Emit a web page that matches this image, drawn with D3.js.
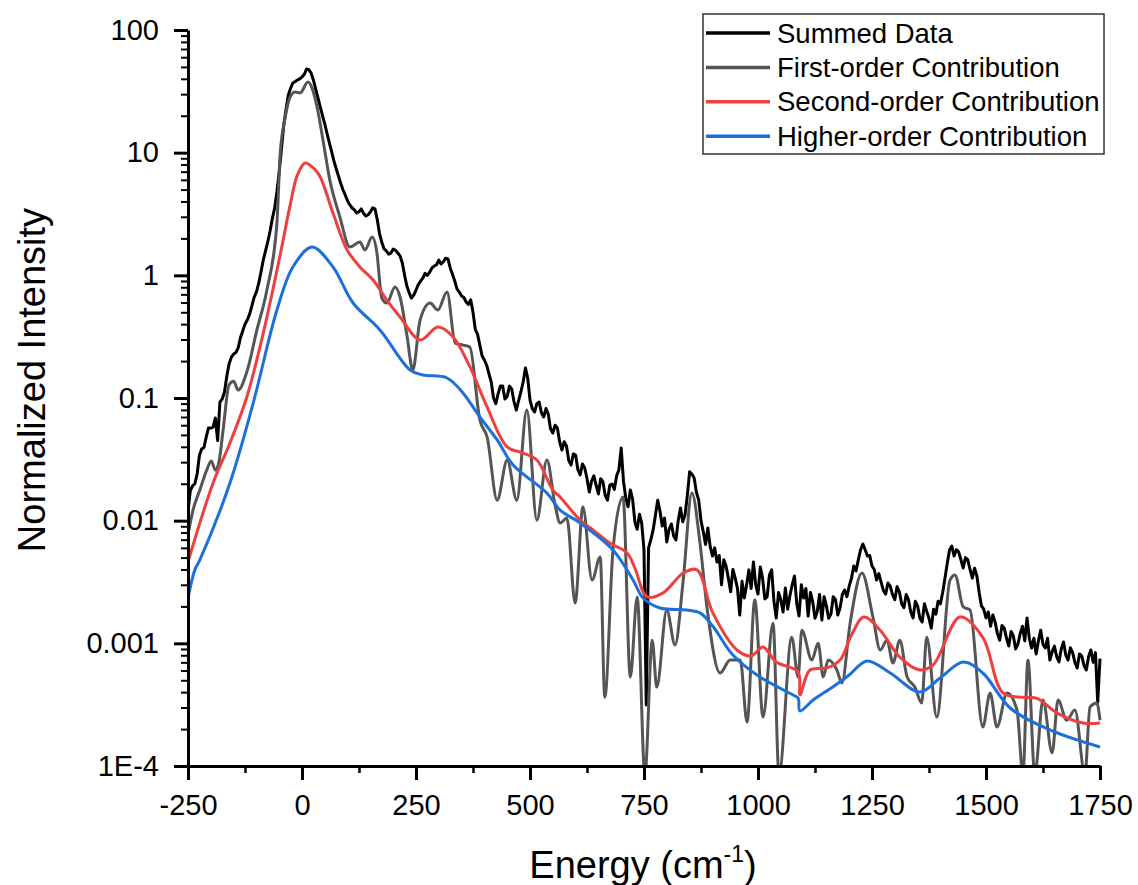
<!DOCTYPE html>
<html>
<head>
<meta charset="utf-8">
<script src="https://cdn.jsdelivr.net/npm/d3@7"></script>
<style>
    body { margin: 0; background: #fff; }
    text { font-family: "Liberation Sans", Arial, sans-serif; fill: #000; }
</style>
</head>
<body>
<div class="canvas"></div>

<script>
    // ---- data ----
    const seriesNames = ["Summed Data", "First-order Contribution", "Second-order Contribution", "Higher-order Contribution"];

    // summed data sampled every 5 cm-1 from -250 to 1750
    const summedEnergy = d3.range(-250, 1751, 5);
    const summedIntensity = [
        0.0118, 0.0175, 0.0192, 0.0200, 0.0240, 0.0340, 0.0384, 0.0395, 0.0481, 0.0570,
        0.0569, 0.0580, 0.0687, 0.045, 0.0928, 0.098, 0.112, 0.150, 0.189, 0.215,
        0.228, 0.235, 0.256, 0.31, 0.351, 0.40, 0.432, 0.48, 0.561, 0.66,
        0.731, 0.86, 1.06, 1.33, 1.58, 1.88, 2.30, 2.9, 3.54, 4.8,
        6.96, 10.8, 16.8, 22.5, 29.5, 33.5, 37.0, 38.0, 39.1, 40.0,
        41.4, 43.5, 48.1, 47.5, 44.6, 39.0, 33.0, 28.0, 23.6, 20.0,
        17.1, 14.3, 12.0, 10.2, 8.55, 7.4, 6.46, 5.6, 4.96, 4.5,
        4.04, 3.75, 3.54, 3.42, 3.22, 3.30, 3.48, 3.20, 3.05, 3.12,
        3.28, 3.55, 3.48, 2.85, 2.19, 1.86, 1.64, 1.58, 1.49, 1.52,
        1.64, 1.60, 1.52, 1.44, 1.26, 1.00, 0.818, 0.72, 0.653, 0.69,
        0.759, 0.84, 0.897, 0.95, 1.04, 1.00, 1.06, 1.15, 1.19, 1.22,
        1.33, 1.24, 1.29, 1.38, 1.36, 1.15, 1.02, 0.90, 0.772, 0.73,
        0.678, 0.66, 0.606, 0.58, 0.632, 0.50, 0.363, 0.33, 0.270, 0.22,
        0.204, 0.185, 0.157, 0.135, 0.100, 0.090, 0.108, 0.125, 0.125, 0.098,
        0.103, 0.125, 0.118, 0.093, 0.0798, 0.0950, 0.112, 0.135, 0.176, 0.145,
        0.0963, 0.0820, 0.0769, 0.0900, 0.0928, 0.0760, 0.0700, 0.0820, 0.0741, 0.0560,
        0.0518, 0.0600, 0.0569, 0.0440, 0.0376, 0.0440, 0.0406, 0.0310, 0.0284, 0.0350,
        0.0343, 0.0260, 0.0236, 0.0290, 0.0269, 0.0220, 0.0171, 0.0210, 0.0232, 0.0195,
        0.0165, 0.0220, 0.0207, 0.0160, 0.0147, 0.0195, 0.0199, 0.0180, 0.0232, 0.0260,
        0.0391, 0.0210, 0.0153, 0.0130, 0.0178, 0.0150, 0.00976, 0.0085, 0.0113, 0.0095,
        0.00577, 0.000314, 0.0060, 0.0070, 0.0084, 0.0110, 0.0147, 0.0120, 0.00905, 0.0105,
        0.0067, 0.0085, 0.0094, 0.0075, 0.00696, 0.0100, 0.0127, 0.0098, 0.0111, 0.0160,
        0.0250, 0.0240, 0.0223, 0.0170, 0.0147, 0.0100, 0.00811, 0.0064, 0.00872, 0.0062,
        0.00515, 0.0060, 0.00461, 0.0052, 0.0030, 0.0048, 0.00427, 0.0034, 0.00263, 0.0040,
        0.0034, 0.0028, 0.0017, 0.0032, 0.00234, 0.0030, 0.00397, 0.0028, 0.00461, 0.0030,
        0.00252, 0.0042, 0.0034, 0.0023, 0.00239, 0.0036, 0.00397, 0.0022, 0.00161, 0.0026,
        0.00227, 0.0018, 0.00283, 0.0019, 0.00244, 0.0030, 0.00354, 0.0021, 0.00167, 0.0030,
        0.00234, 0.0028, 0.00167, 0.0026, 0.00219, 0.0016, 0.00182, 0.0025, 0.00155, 0.0024,
        0.00202, 0.0016, 0.00173, 0.0024, 0.00227, 0.0017, 0.00195, 0.0025, 0.00272, 0.0024,
        0.00293, 0.0034, 0.00427, 0.0039, 0.00479, 0.0058, 0.00646, 0.0058, 0.00515, 0.0052,
        0.00427, 0.0040, 0.00328, 0.0037, 0.00316, 0.0027, 0.00252, 0.0031, 0.00293, 0.0025,
        0.00227, 0.0029, 0.00263, 0.0021, 0.00195, 0.0025, 0.00227, 0.0018, 0.00161, 0.0022,
        0.00202, 0.0016, 0.00149, 0.0021, 0.00182, 0.0016, 0.00133, 0.0019, 0.00173, 0.0022,
        0.0021, 0.0026, 0.0034, 0.0045, 0.00577, 0.0062, 0.00515, 0.0058, 0.00556, 0.0048,
        0.00411, 0.0050, 0.00479, 0.0040, 0.0034, 0.0041, 0.00354, 0.0026, 0.00202, 0.0019,
        0.00161, 0.0018, 0.00138, 0.0017, 0.00149, 0.0012, 0.00106, 0.0014, 0.00133, 0.0011,
        0.00095, 0.00125, 0.00115, 0.00090, 0.000987, 0.00120, 0.00138, 0.00105, 0.00161, 0.00110,
        0.000915, 0.00110, 0.000818, 0.00105, 0.00128, 0.00098, 0.000915, 0.00110, 0.000731, 0.00085,
        0.00095, 0.00078, 0.000704, 0.00090, 0.001025, 0.00080, 0.000731, 0.00092, 0.00084, 0.00070,
        0.000629, 0.00082, 0.000788, 0.00066, 0.000606, 0.00078, 0.000882, 0.00070, 0.00084, 0.00033,
        0.00075
    ];

    const firstEnergy = [
        -250, -239, -224, -209, -199, -190, -182, -173, -160, -150, -140, -121, -99, -77, -55, -48, -37, -26, -15, -4,
        13, 22, 33, 46, 61, 83, 105, 127, 138, 154, 164, 175, 186, 204, 215, 230, 243, 259, 281, 298,
        318, 336, 353, 368, 390, 406, 428, 450, 471, 493, 515, 537, 555, 566, 581, 599, 616, 636, 654, 664,
        682, 704, 720, 735, 752, 768, 778, 800, 818, 836, 855, 872, 888, 917, 939, 961, 976, 993, 1011, 1033,
        1046, 1074, 1088, 1096, 1118, 1132, 1143, 1154, 1173, 1184, 1202, 1228, 1252, 1268, 1283, 1296, 1311, 1327, 1344, 1359,
        1370, 1392, 1421, 1432, 1450, 1465, 1493, 1509, 1524, 1546, 1568, 1581, 1592, 1607, 1625, 1645, 1658, 1677, 1695, 1717,
        1728, 1743, 1750
    ];
    const firstIntensity = [
        0.00765, 0.0122, 0.0178, 0.0258, 0.0307, 0.0258, 0.0302, 0.0548, 0.128, 0.137, 0.116, 0.163, 0.357, 0.759, 2.67, 9.58, 19.2, 28.4, 31.2, 30.7,
        37.6, 33.6, 23.6, 12.7, 5.98, 3.00, 1.70, 1.87, 1.61, 2.05, 1.55, 0.653, 0.594, 0.803, 0.666, 0.326, 0.169, 0.432, 0.594, 0.521,
        0.731, 0.280, 0.270, 0.260, 0.0662, 0.0481, 0.0147, 0.0312, 0.0147, 0.0798, 0.0101, 0.0312, 0.0134, 0.00958, 0.0105, 0.00213, 0.0129, 0.00328, 0.00506, 0.000363,
        0.00577, 0.0156, 0.000531, 0.00239, 0.000085, 0.00106, 0.000440, 0.00187, 0.000969, 0.00328, 0.0168, 0.00696, 0.00198, 0.000573, 0.000731, 0.000731, 0.000228, 0.00227, 0.000251, 0.00146,
        0.000085, 0.00112, 0.000531, 0.00128, 0.000731, 0.00100, 0.000531, 0.000731, 0.000606, 0.000475, 0.00146, 0.00374, 0.00164, 0.000882, 0.00106, 0.000691, 0.00106, 0.000531, 0.000440, 0.000326,
        0.00112, 0.000251, 0.00328, 0.00361, 0.00198, 0.00187, 0.000208, 0.000394, 0.000208, 0.000394, 0.000286, 0.000085, 0.000731, 0.000085, 0.000345, 0.000128, 0.000345, 0.000236, 0.000286, 0.000085,
        0.000302, 0.000326, 0.000236
    ];

    const secondEnergy = [
        -250, -195, -158, -121, -85, -48, -26, -10, 7, 25, 40, 68, 99, 127, 156, 186, 215, 259, 298, 331,
        368, 406, 450, 485, 515, 550, 566, 610, 638, 675, 713, 730, 757, 792, 836, 866, 901, 954, 985, 1011,
        1040, 1088, 1092, 1114, 1151, 1180, 1205, 1232, 1268, 1311, 1355, 1384, 1443, 1493, 1537, 1581, 1612, 1656, 1713, 1750
    ];
    const secondIntensity = [
        0.00461, 0.0203, 0.0430, 0.102, 0.338, 1.46, 3.74, 6.58, 8.23, 7.50, 6.34, 3.22, 1.61, 1.17, 0.915, 0.629, 0.458, 0.297, 0.379, 0.316,
        0.180, 0.0844, 0.0399, 0.0356, 0.0312, 0.0178, 0.0156, 0.0101, 0.00840, 0.00658, 0.00545, 0.00411, 0.00239, 0.00258, 0.00374, 0.00397, 0.00177, 0.000882, 0.000788, 0.000933,
        0.000704, 0.000583, 0.000379, 0.000606, 0.000630, 0.000731, 0.00117, 0.00164, 0.00128, 0.000772, 0.000606, 0.000666, 0.00164, 0.00112, 0.000394, 0.000363, 0.000356, 0.000270, 0.000224, 0.000224
    ];

    const higherEnergy = [
        -250, -235, -224, -158, -107, -55, -20, 22, 68, 112, 171, 237, 265, 318, 353, 390, 428, 463, 537, 566,
        610, 682, 726, 748, 785, 844, 873, 901, 945, 1004, 1077, 1088, 1092, 1121, 1164, 1200, 1239, 1290, 1355, 1399,
        1450, 1493, 1553, 1640, 1750
    ];
    const higherIntensity = [
        0.00234, 0.00397, 0.00479, 0.0203, 0.091, 0.521, 1.17, 1.70, 1.17, 0.595, 0.358, 0.169, 0.154, 0.1456, 0.110, 0.070, 0.0455, 0.0284, 0.0168, 0.0122,
        0.00957, 0.00577, 0.00328, 0.00234, 0.00194, 0.00187, 0.00177, 0.00138, 0.000803, 0.000532, 0.000379, 0.000358, 0.000281, 0.000345, 0.000441, 0.000552, 0.000718, 0.000573, 0.000401, 0.000521,
        0.000705, 0.000573, 0.000297, 0.000197, 0.000143
    ];

    const xTickValues = [-250, 0, 250, 500, 750, 1000, 1250, 1500, 1750];
    const xMinorTicks = [-125, 125, 375, 625, 875, 1125, 1375, 1625];
    const yTickValues = [1e-4, 0.001, 0.01, 0.1, 1, 10, 100];
    const yTickLabels = ["1E-4", "0.001", "0.01", "0.1", "1", "10", "100"];

    (function () {
        const width = 1138;
        const height = 885;
        const PLOT_LEFT = 188;
        const PLOT_RIGHT = 1100;
        const PLOT_TOP = 30;
        const PLOT_BOTTOM = 766;
        const COLORS = ["#000000", "#555555", "#ef3f3f", "#1d6fdc"];

        const svg = d3.select(".canvas").append("svg")
            .attr("width", width)
            .attr("height", height)

        const xScale = d3.scaleLinear().domain([-250, 1750]).range([PLOT_LEFT, PLOT_RIGHT]);
        const yScale = d3.scaleLog().domain([1e-4, 100]).range([PLOT_BOTTOM, PLOT_TOP]);

        svg.append("defs").append("clipPath")
            .attr("id", "plot-clip")
            .append("rect")
            .attr("x", PLOT_LEFT)
            .attr("y", 0)
            .attr("width", PLOT_RIGHT - PLOT_LEFT + 2)
            .attr("height", PLOT_BOTTOM)

        const zip = (xs, ys) => xs.map((x, i) => [x, ys[i]]);
        const series = [
            { values: zip(summedEnergy, summedIntensity), curve: d3.curveLinear, width: 3 },
            { values: zip(firstEnergy, firstIntensity), curve: d3.curveMonotoneX, width: 3 },
            { values: zip(secondEnergy, secondIntensity), curve: d3.curveCatmullRom, width: 3 },
            { values: zip(higherEnergy, higherIntensity), curve: d3.curveCatmullRom, width: 3 }
        ];

        const plot = svg.append("g").attr("clip-path", "url(#plot-clip)");

        series.forEach(function (s, i) {
            const line = d3.line()
                .x(d => xScale(d[0]))
                .y(d => yScale(d[1]))
                .curve(s.curve);
            plot.append("path")
                .datum(s.values)
                .attr("fill", "none")
                .attr("stroke", COLORS[i])
                .attr("stroke-width", s.width)
                .attr("stroke-linejoin", "round")
                .attr("d", line)
        });

        // minor ticks
        const yMinorTicks = [];
        [1e-4, 1e-3, 1e-2, 0.1, 1, 10].forEach(function (decade) {
            for (let k = 2; k <= 9; k++) yMinorTicks.push(decade * k);
        });

        const xAxisMinor = svg.append("g")
            .attr("transform", "translate(0," + PLOT_BOTTOM + ")")
            .call(d3.axisBottom(xScale).tickValues(xMinorTicks).tickSize(7).tickFormat(""))
        xAxisMinor.select(".domain").remove();
        xAxisMinor.selectAll("line").attr("stroke-width", 2.5);

        const yAxisMinor = svg.append("g")
            .attr("transform", "translate(" + PLOT_LEFT + ",0)")
            .call(d3.axisLeft(yScale).tickValues(yMinorTicks).tickSize(7).tickFormat(""))
        yAxisMinor.select(".domain").remove();
        yAxisMinor.selectAll("line").attr("stroke-width", 2);

        // major axes
        const xAxis = svg.append("g")
            .attr("transform", "translate(0," + PLOT_BOTTOM + ")")
            .call(d3.axisBottom(xScale).tickValues(xTickValues).tickSize(14).tickSizeOuter(0).tickPadding(14)
                .tickFormat(d => String(d)))
        xAxis.selectAll("text").style("font-size", "29px");

        const yAxis = svg.append("g")
            .attr("transform", "translate(" + PLOT_LEFT + ",0)")
            .call(d3.axisLeft(yScale).tickValues(yTickValues).tickSize(14).tickSizeOuter(0).tickPadding(15)
                .tickFormat((d, i) => yTickLabels[i]))
        yAxis.selectAll("text").style("font-size", "29px");

        [xAxis, yAxis].forEach(function (ax) {
            ax.select(".domain").attr("stroke-width", 3);
            ax.selectAll(".tick line").attr("stroke-width", 3);
            ax.attr("font-family", null);
        });

        // axis titles
        const xTitle = svg.append("text")
            .attr("x", 643)
            .attr("y", 878)
            .attr("text-anchor", "middle")
            .style("font-size", "38px")
        xTitle.append("tspan").text("Energy (cm");
        xTitle.append("tspan").attr("dy", -16).style("font-size", "23px").text("-1");
        xTitle.append("tspan").attr("dy", 16).text(")");

        svg.append("text")
            .attr("transform", "translate(45,380) rotate(-90)")
            .attr("text-anchor", "middle")
            .style("font-size", "38px")
            .text("Normalized Intensity")

        // legend
        const legend = svg.append("g").attr("transform", "translate(703,14)");
        legend.append("rect")
            .attr("width", 401)
            .attr("height", 140)
            .attr("fill", "#fff")
            .attr("stroke", "#333")
            .attr("stroke-width", 1.5)

        const rows = legend.selectAll("g.row")
            .data(seriesNames)
            .enter()
            .append("g")
            .attr("class", "row")
            .attr("transform", (d, i) => "translate(0," + (19 + i * 34.4) + ")")

        rows.append("line")
            .attr("x1", 3)
            .attr("x2", 67)
            .attr("stroke", (d, i) => COLORS[i])
            .attr("stroke-width", 3.5)

        rows.append("text")
            .attr("x", 74)
            .attr("y", 9.5)
            .style("font-size", "27.5px")
            .text(d => d)
    })()
</script>
</body>
</html>
